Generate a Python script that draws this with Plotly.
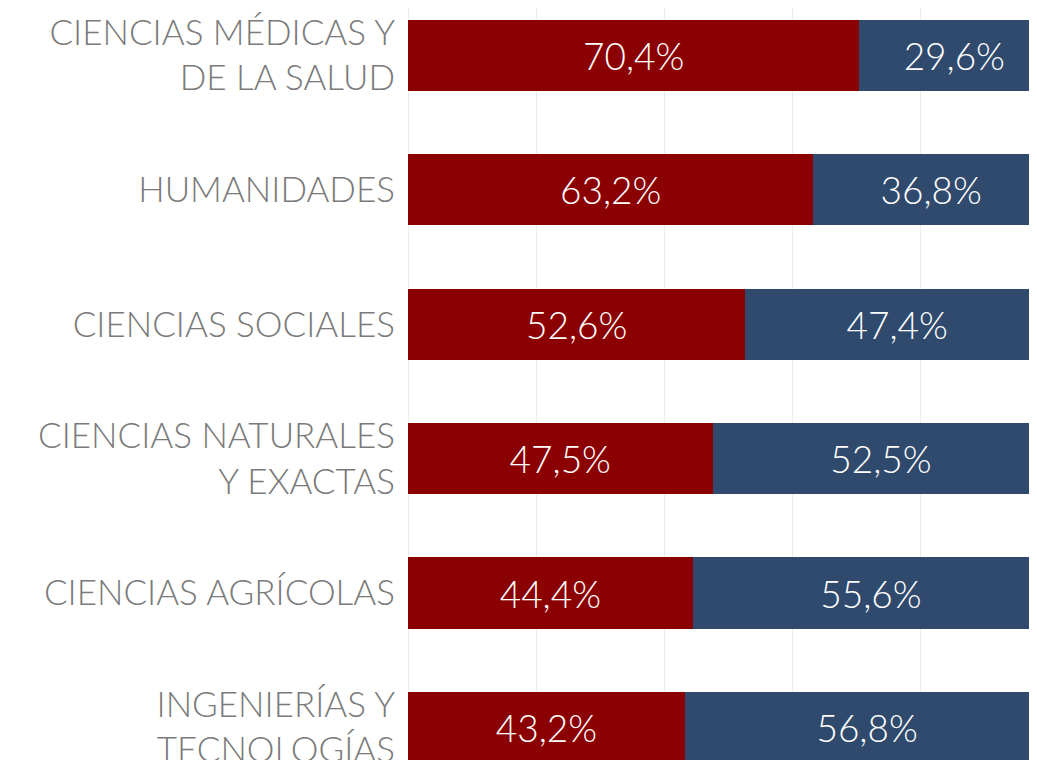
import plotly.graph_objects as go

areas = [
    "CIENCIAS MÉDICAS Y<br>DE LA SALUD",
    "HUMANIDADES",
    "CIENCIAS SOCIALES",
    "CIENCIAS NATURALES<br>Y EXACTAS",
    "CIENCIAS AGRÍCOLAS",
    "INGENIERÍAS Y<br>TECNOLOGÍAS",
]
mujeres = [70.4, 63.2, 52.6, 47.5, 44.4, 43.2]
hombres = [29.6, 36.8, 47.4, 52.5, 55.6, 56.8]

RED = "#8B0000"
BLUE = "#2F4A6D"
FONT = "Lato, 'Open Sans', sans-serif"


def _pct(vals):
    return [f"{v:.1f}".replace(".", ",") + "%" for v in vals]


fig = go.Figure()
for vals, color, name in [(mujeres, RED, "Mujeres"), (hombres, BLUE, "Hombres")]:
    fig.add_trace(
        go.Bar(
            y=areas, x=vals, orientation="h",
            marker=dict(color=color, line=dict(width=0)),
            width=0.53,
            name=name,
            text=_pct(vals),
            textposition="inside",
            insidetextanchor="middle",
            textangle=0,
            textfont=dict(family=FONT, size=37, color="white", weight=300),
            showlegend=False,
        )
    )

# la página añade 8 px de margen al body: se compensa aquí
fig.update_layout(
    barmode="stack",
    width=1029, height=752,
    margin=dict(l=400, r=0, t=0, b=0),
    plot_bgcolor="white",
    paper_bgcolor="white",
)
fig.update_xaxes(
    range=[0, 98.1],
    dtick=20,
    showticklabels=False,
    showgrid=True, gridcolor="#ececec", gridwidth=1,
    zeroline=True, zerolinecolor="#ececec", zerolinewidth=1,
)
fig.update_yaxes(
    type="category",
    range=[5.242, -0.353],
    showgrid=False,
    ticks="", ticklabelstandoff=12,
    tickfont=dict(family=FONT, size=35, color="#7a7a7a", weight=300),
    automargin=False,
)

fig.write_html("out.html")
